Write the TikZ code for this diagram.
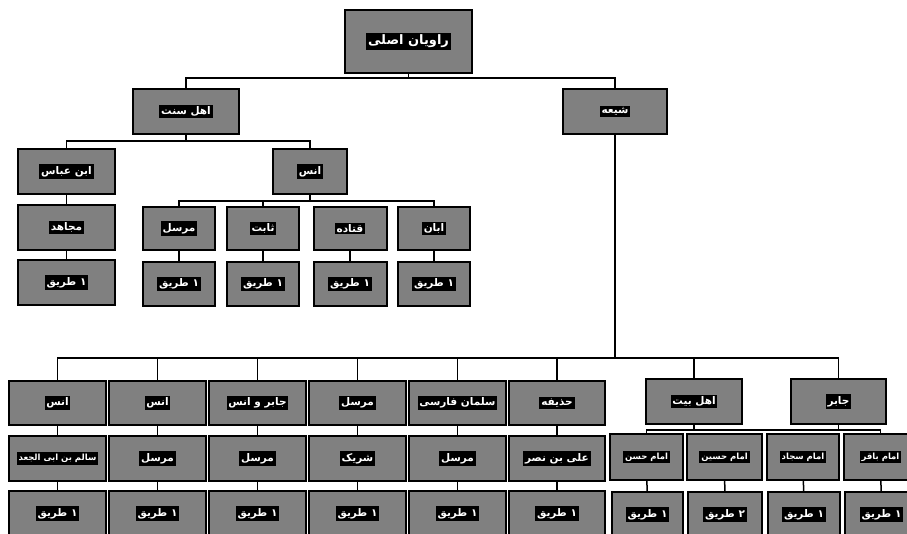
\documentclass[tikz,border=0pt]{standalone}
\usepackage{fontspec}
\newfontfamily\arabicfont[Script=Arabic]{DejaVu Sans}
\TeXXeTstate=1
\newcommand{\fa}[1]{{\setlength{\fboxsep}{1.8pt}\colorbox{black}{\textcolor{white}{\arabicfont\bfseries\beginR #1\endR}}}}
\definecolor{boxgray}{HTML}{808080}
\tikzset{
  bx/.style={draw=black, line width=2pt, fill=boxgray, inner sep=0pt, font=\fontsize{10.5}{12}\selectfont},
  ln/.style={draw=black, line width=1.5pt},
}
\begin{document}
\begin{tikzpicture}[x=1pt,y=-1pt]
\clip (0,0) rectangle (907,533);
\fill[white] (0,0) rectangle (907,533);
% top levels
\node[bx, minimum width=127, minimum height=63, font=\fontsize{13}{15}\selectfont] (root) at (408.5,41.5) {\fa{راویان اصلی}};
\node[bx, minimum width=106, minimum height=45] (sunni) at (186,111.5) {\fa{اهل سنت}};
\node[bx, minimum width=104, minimum height=45] (shia) at (615,111.5) {\fa{شیعه}};
\node[bx, minimum width=97, minimum height=45] (ibn) at (66.5,171.5) {\fa{ابن عباس}};
\node[bx, minimum width=74, minimum height=45] (anas) at (310,171.5) {\fa{انس}};
\node[bx, minimum width=97, minimum height=45] (muj) at (66.5,227.5) {\fa{مجاهد}};
\node[bx, minimum width=97, minimum height=45] (mujt) at (66.5,282.5) {\fa{۱ طریق}};
% children of anas
\node[bx, minimum width=72, minimum height=43] (s1) at (179,228.5) {\fa{مرسل}};
\node[bx, minimum width=72, minimum height=43] (s2) at (263,228.5) {\fa{ثابت}};
\node[bx, minimum width=73, minimum height=43] (s3) at (350,228.5) {\fa{قتاده}};
\node[bx, minimum width=72, minimum height=43] (s4) at (434,228.5) {\fa{ابان}};
\node[bx, minimum width=72, minimum height=44] (t1) at (179,284) {\fa{۱ طریق}};
\node[bx, minimum width=72, minimum height=44] (t2) at (263,284) {\fa{۱ طریق}};
\node[bx, minimum width=73, minimum height=44] (t3) at (350,284) {\fa{۱ طریق}};
\node[bx, minimum width=72, minimum height=44] (t4) at (434,284) {\fa{۱ طریق}};
% shia row A
\node[bx, minimum width=97, minimum height=44] (a1) at (57.5,403) {\fa{انس}};
\node[bx, minimum width=97, minimum height=44] (a2) at (157.5,403) {\fa{انس}};
\node[bx, minimum width=97, minimum height=44] (a3) at (257.5,403) {\fa{جابر و انس}};
\node[bx, minimum width=97, minimum height=44] (a4) at (357.5,403) {\fa{مرسل}};
\node[bx, minimum width=97, minimum height=44] (a5) at (457.5,403) {\fa{سلمان فارسی}};
\node[bx, minimum width=96, minimum height=44] (a6) at (557,403) {\fa{حذیفه}};
\node[bx, minimum width=96, minimum height=45] (a7) at (694,401.5) {\fa{اهل بیت}};
\node[bx, minimum width=95, minimum height=45] (a8) at (838.5,401.5) {\fa{جابر}};
% row B
\node[bx, minimum width=97, minimum height=45, font=\fontsize{8.5}{10}\selectfont] (b1) at (57.5,458.5) {\fa{سالم بن ابی الجعد}};
\node[bx, minimum width=97, minimum height=45] (b2) at (157.5,458.5) {\fa{مرسل}};
\node[bx, minimum width=97, minimum height=45] (b3) at (257.5,458.5) {\fa{مرسل}};
\node[bx, minimum width=97, minimum height=45] (b4) at (357.5,458.5) {\fa{شریک}};
\node[bx, minimum width=97, minimum height=45] (b5) at (457.5,458.5) {\fa{مرسل}};
\node[bx, minimum width=96, minimum height=45] (b6) at (557,458.5) {\fa{علی بن نصر}};
\node[bx, minimum width=73, minimum height=46, font=\fontsize{8.5}{10}\selectfont] (b7) at (646.5,457) {\fa{امام حسن}};
\node[bx, minimum width=75, minimum height=46, font=\fontsize{8.5}{10}\selectfont] (b8) at (724.5,457) {\fa{امام حسین}};
\node[bx, minimum width=72, minimum height=46, font=\fontsize{8.5}{10}\selectfont] (b9) at (803,457) {\fa{امام سجاد}};
\node[bx, minimum width=73, minimum height=46, font=\fontsize{8.5}{10}\selectfont] (b10) at (880.5,457) {\fa{امام باقر}};
% row C
\node[bx, minimum width=97, minimum height=45] (c1) at (57.5,513.5) {\fa{۱ طریق}};
\node[bx, minimum width=97, minimum height=45] (c2) at (157.5,513.5) {\fa{۱ طریق}};
\node[bx, minimum width=97, minimum height=45] (c3) at (257.5,513.5) {\fa{۱ طریق}};
\node[bx, minimum width=97, minimum height=45] (c4) at (357.5,513.5) {\fa{۱ طریق}};
\node[bx, minimum width=97, minimum height=45] (c5) at (457.5,513.5) {\fa{۱ طریق}};
\node[bx, minimum width=96, minimum height=45] (c6) at (557,513.5) {\fa{۱ طریق}};
\node[bx, minimum width=71, minimum height=45] (c7) at (647.5,514.5) {\fa{۱ طریق}};
\node[bx, minimum width=74, minimum height=45] (c8) at (725,514.5) {\fa{۲ طریق}};
\node[bx, minimum width=72, minimum height=45] (c9) at (804,514.5) {\fa{۱ طریق}};
\node[bx, minimum width=73, minimum height=45] (c10) at (881.5,514.5) {\fa{۱ طریق}};
% connector levels
\coordinate (h1) at (0,78);
\coordinate (h2) at (0,141);
\coordinate (h3) at (0,201);
\coordinate (h4) at (0,358);
\coordinate (h5) at (0,430);
% connectors
\draw[ln] (root.south) -- (root.south |- h1);
\draw[ln] (sunni.north) -- (sunni.north |- h1) -- (shia.north |- h1) -- (shia.north);
\draw[ln] (sunni.south) -- (sunni.south |- h2);
\draw[ln] (ibn.north) -- (ibn.north |- h2) -- (anas.north |- h2) -- (anas.north);
\draw[ln] (ibn) -- (muj);
\draw[ln] (muj) -- (mujt);
\draw[ln] (anas.south) -- (anas.south |- h3);
\draw[ln] (s1.north) -- (s1.north |- h3) -- (s4.north |- h3) -- (s4.north);
\draw[ln] (s2.north) -- (s2.north |- h3);
\draw[ln] (s1) -- (t1);
\draw[ln] (s2) -- (t2);
\draw[ln] (s3) -- (t3);
\draw[ln] (s4) -- (t4);
\draw[ln] (shia.south) -- (shia.south |- h4);
\draw[ln] (a1.north) -- (a1.north |- h4) -- (a8.north |- h4) -- (a8.north);
\foreach \n in {a2,a3,a4,a5,a6,a7} \draw[ln] (\n.north) -- (\n.north |- h4);
\draw[ln] (a7.south) -- (a7.south |- h5);
\draw[ln] (a8.south) -- (a8.south |- h5);
\draw[ln] (b7.north) -- (b7.north |- h5) -- (b10.north |- h5) -- (b10.north);
\foreach \u/\v in {a1/b1,a2/b2,a3/b3,a4/b4,a5/b5,a6/b6,b1/c1,b2/c2,b3/c3,b4/c4,b5/c5,b6/c6,b7/c7,b8/c8,b9/c9,b10/c10} \draw[ln] (\u) -- (\v);
\end{tikzpicture}
\end{document}
